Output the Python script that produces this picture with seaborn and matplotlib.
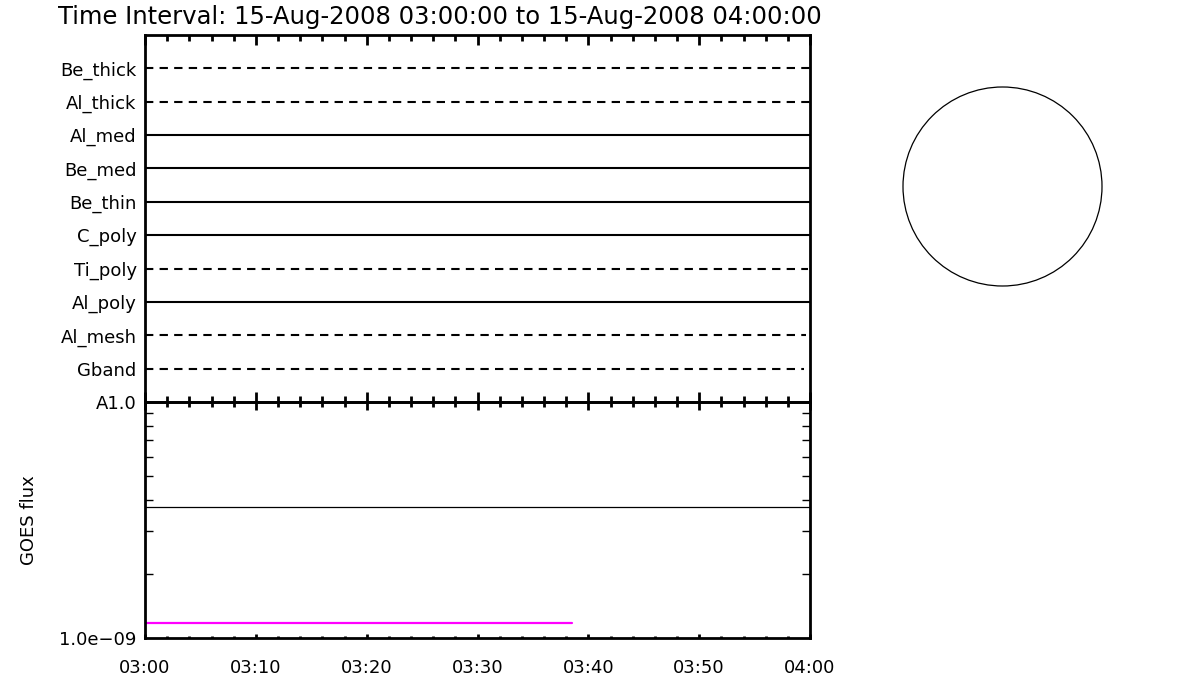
import numpy as np
import pandas as pd
import matplotlib
matplotlib.use("Agg")
import matplotlib.pyplot as plt
import matplotlib.ticker as mticker
from matplotlib.patches import Circle
import seaborn as sns

# ---------------- data ----------------
title = "Time Interval: 15-Aug-2008 03:00:00 to 15-Aug-2008 04:00:00"
channels = ["Be_thick", "Al_thick", "Al_med", "Be_med", "Be_thin",
            "C_poly", "Ti_poly", "Al_poly", "Al_mesh", "Gband"]
channel_dashed = [True, True, False, False, False, False, True, False, True, True]
channel_start = [0, 0, 0, 0, 0, 0, 0, 0, 0, 0]          # minutes after 03:00
channel_end = [60, 60, 60, 60, 60, 60, 59.8, 60, 59.6, 59.5]

time_ticks = [0, 10, 20, 30, 40, 50, 60]
time_labels = ["03:00", "03:10", "03:20", "03:30", "03:40", "03:50", "04:00"]

goes_long_t = [0, 60]
goes_long_v = [3.75e-9, 3.75e-9]
goes_short_t = [0, 38.5]
goes_short_v = [1.27e-9, 1.27e-9]

flux_tick_vals = [1.1e-9, 1e-8]
flux_tick_labels = ["1.0e\u221209", "A1.0"]

# ---------------- style ----------------
sns.set_style("white")
plt.rcParams["font.family"] = ["DejaVu Sans"]
for k in ["text.color", "axes.labelcolor", "xtick.color", "ytick.color"]:
    plt.rcParams[k] = "black"

fig = plt.figure(figsize=(12, 7), dpi=100)
fig.patch.set_facecolor("white")

L, W = 145 / 1200, 665 / 1200
ax1 = fig.add_axes([L, 1 - 402 / 700, W, 367 / 700])
ax2 = fig.add_axes([L, 1 - 638 / 700, W, 236 / 700])
ax3 = fig.add_axes([902 / 1200, 1 - 287 / 700, 201 / 1200, 201 / 700])

# ---- top panel: channel coverage ----
n = len(channels)
for i, ch in enumerate(channels):
    yv = n - i
    df = pd.DataFrame({"t": [channel_start[i], channel_end[i]], "y": [yv, yv]})
    ls = (0, (4, 3)) if channel_dashed[i] else "-"
    sns.lineplot(data=df, x="t", y="y", ax=ax1, color="black", lw=1.5,
                 linestyle=ls, estimator=None, legend=False)
ax1.set_xlim(0, 60)
ax1.set_ylim(0, n + 1)
ax1.set_yticks([n - i for i in range(n)])
ax1.set_yticklabels(channels, fontsize=13)
ax1.tick_params(axis="y", length=0, pad=6)
ax1.set_xticks(time_ticks)
ax1.set_xticklabels([])
ax1.xaxis.set_minor_locator(mticker.MultipleLocator(2))
ax1.tick_params(axis="x", which="both", direction="in", top=True, bottom=True, width=2)
ax1.tick_params(axis="x", which="major", length=7)
ax1.tick_params(axis="x", which="minor", length=4)
ax1.set_xlabel("")
ax1.set_ylabel("")
for s in ax1.spines.values():
    s.set_linewidth(2)
    s.set_color("black")

# ---- bottom panel: GOES flux ----
df_long = pd.DataFrame({"t": goes_long_t, "flux": goes_long_v})
df_short = pd.DataFrame({"t": goes_short_t, "flux": goes_short_v})
sns.lineplot(data=df_long, x="t", y="flux", ax=ax2, color="black", lw=0.9,
             estimator=None, legend=False)
sns.lineplot(data=df_short, x="t", y="flux", ax=ax2, color="#ff00ff", lw=1.6,
             estimator=None, legend=False)
ax2.set_yscale("log")
ax2.set_xlim(0, 60)
ax2.set_ylim(flux_tick_vals[0], flux_tick_vals[1])
ax2.set_yticks(flux_tick_vals)
ax2.set_yticklabels(flux_tick_labels, fontsize=13)
ax2.yaxis.set_minor_locator(mticker.LogLocator(base=10, subs=np.arange(2, 10)))
ax2.yaxis.set_minor_formatter(mticker.NullFormatter())
ax2.tick_params(axis="y", which="major", length=0, pad=6)
ax2.tick_params(axis="y", which="minor", direction="in", length=6, width=1,
                left=True, right=True)
ax2.set_xticks(time_ticks)
ax2.set_xticklabels(time_labels, fontsize=13)
ax2.xaxis.set_minor_locator(mticker.MultipleLocator(2))
ax2.tick_params(axis="x", which="both", direction="in", top=False, bottom=True,
                width=2, pad=15)
ax2.tick_params(axis="x", which="major", length=3)
ax2.tick_params(axis="x", which="minor", length=1.5)
sec = ax2.secondary_xaxis("top")
sec.set_xticks(time_ticks)
sec.set_xticklabels([])
sec.xaxis.set_minor_locator(mticker.MultipleLocator(2))
sec.tick_params(axis="x", which="both", direction="in", width=2, color="black")
sec.tick_params(axis="x", which="major", length=6)
sec.tick_params(axis="x", which="minor", length=3.5)
sec.spines["top"].set_linewidth(2)
ax2.set_xlabel("")
ax2.set_ylabel("GOES flux", fontsize=13)
ax2.yaxis.set_label_coords(-(145 - 38) / 665, 0.5)
for s in ax2.spines.values():
    s.set_linewidth(2)
    s.set_color("black")

# ---- circle (solar disk outline) ----
ax3.add_patch(Circle((0, 0), 1, fill=False, edgecolor="black", lw=0.9))
ax3.set_xlim(-1.01, 1.01)
ax3.set_ylim(-1.01, 1.01)
ax3.set_aspect("equal")
ax3.axis("off")

fig.text(58 / 1200, 1 - 17 / 700, title, fontsize=17.5, ha="left", va="center")

fig.savefig("out.png", dpi=100, facecolor="white")
